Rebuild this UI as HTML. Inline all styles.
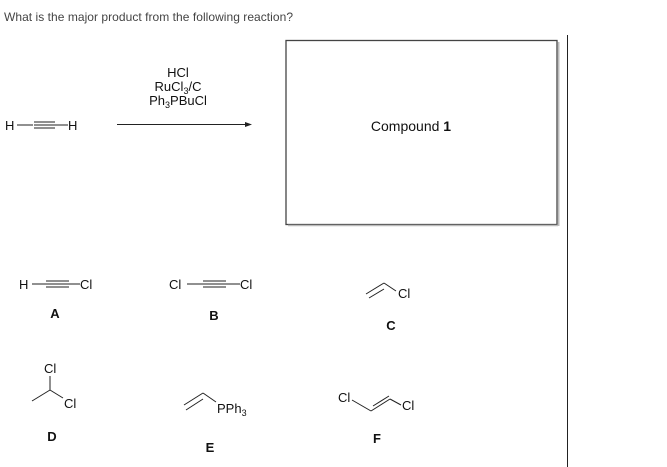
<!DOCTYPE html>
<html><head><meta charset="utf-8"><style>
html,body{margin:0;padding:0;background:#fff;width:667px;height:467px;overflow:hidden}
svg text{font-family:"Liberation Sans",Arial,sans-serif;fill:#111}
</style></head><body>
<svg width="667" height="467" viewBox="0 0 667 467" xmlns="http://www.w3.org/2000/svg">
<text x="4" y="21" font-size="12" style="fill:#444" textLength="289">What is the major product from the following reaction?</text>
<rect x="286" y="40.5" width="271" height="184" fill="none" stroke="#444" stroke-width="1.3"/>
<line x1="558.5" y1="42" x2="558.5" y2="226" stroke="#bbb" stroke-width="2"/>
<line x1="288" y1="225.5" x2="558" y2="225.5" stroke="#bbb" stroke-width="1.5"/>
<line x1="567.5" y1="35" x2="567.5" y2="467" stroke="#222" stroke-width="1"/>
<text x="411" y="131" font-size="14" text-anchor="middle">Compound <tspan font-weight="bold">1</tspan></text>
<g stroke="#222" stroke-width="1">
<text x="5" y="130" font-size="13" stroke="none">H</text>
<line x1="17" y1="125" x2="33" y2="125"/>
<line x1="34" y1="122" x2="55" y2="122"/><line x1="34" y1="125" x2="55" y2="125"/><line x1="34" y1="128" x2="55" y2="128"/>
<line x1="55" y1="125" x2="68" y2="125"/>
<text x="68" y="130" font-size="13" stroke="none">H</text>
<line x1="117" y1="124.5" x2="248" y2="124.5"/>
</g>
<polygon points="252,124.5 245,122 245,127" fill="#222"/>
<text x="178" y="77" font-size="13" text-anchor="middle">HCl</text>
<text x="178" y="91" font-size="13" text-anchor="middle">RuCl<tspan font-size="9" dy="3">3</tspan><tspan dy="-3">/C</tspan></text>
<text x="178" y="105" font-size="13" text-anchor="middle">Ph<tspan font-size="9" dy="3">3</tspan><tspan dy="-3">PBuCl</tspan></text>
<g stroke="#222" stroke-width="1">
<text x="19" y="289" font-size="13" stroke="none">H</text>
<line x1="32" y1="284" x2="46" y2="284"/>
<line x1="46" y1="281" x2="69" y2="281"/><line x1="46" y1="284" x2="69" y2="284"/><line x1="46" y1="287" x2="69" y2="287"/>
<line x1="69" y1="284" x2="80" y2="284"/>
<text x="80" y="289" font-size="13" stroke="none">Cl</text>
<text x="169" y="289" font-size="13" stroke="none">Cl</text>
<line x1="187" y1="284" x2="203" y2="284"/>
<line x1="203" y1="281" x2="226" y2="281"/><line x1="203" y1="284" x2="226" y2="284"/><line x1="203" y1="287" x2="226" y2="287"/>
<line x1="226" y1="284" x2="240" y2="284"/>
<text x="240" y="289" font-size="13" stroke="none">Cl</text>
<line x1="366" y1="294" x2="384" y2="283"/><line x1="369" y1="298" x2="384" y2="289"/>
<line x1="384" y1="283" x2="396" y2="291"/>
<text x="398" y="298" font-size="13" stroke="none">Cl</text>
<text x="44" y="373" font-size="13" stroke="none">Cl</text>
<line x1="50" y1="376" x2="50" y2="390"/>
<line x1="50" y1="390" x2="32" y2="401"/>
<line x1="50" y1="390" x2="63" y2="398"/>
<text x="64" y="408" font-size="13" stroke="none">Cl</text>
<line x1="184" y1="405" x2="203" y2="393"/><line x1="186" y1="410" x2="203" y2="399"/>
<line x1="203" y1="393" x2="216" y2="402"/>
<text x="217" y="413" font-size="13" stroke="none">PPh<tspan font-size="9" dy="3">3</tspan></text>
<text x="338" y="402" font-size="13" stroke="none">Cl</text>
<line x1="352" y1="400" x2="371" y2="411"/>
<line x1="371" y1="411" x2="390" y2="399"/><line x1="373" y1="406" x2="389" y2="396"/>
<line x1="390" y1="399" x2="401" y2="405"/>
<text x="402" y="410" font-size="13" stroke="none">Cl</text>
</g>
<g font-size="13" font-weight="bold" text-anchor="middle">
<text x="55" y="318">A</text>
<text x="214" y="320">B</text>
<text x="391" y="330">C</text>
<text x="52" y="441">D</text>
<text x="210" y="452">E</text>
<text x="377" y="443">F</text>
</g>
</svg>
</body></html>
